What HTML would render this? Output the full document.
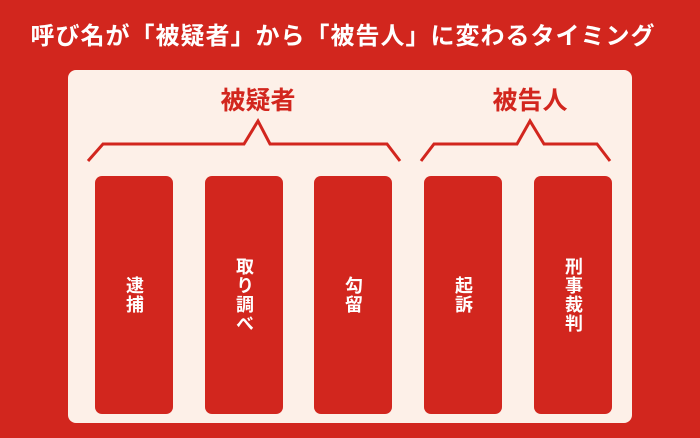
<!DOCTYPE html>
<html><head><meta charset="utf-8"><style>
body{margin:0;width:700px;height:438px;background:#d2261e;position:relative;overflow:hidden;font-family:"Liberation Sans","Noto Sans CJK JP",sans-serif;}
.title{position:absolute;left:0;width:686px;top:21px;text-align:center;color:#fff;font-weight:bold;font-size:24px;letter-spacing:1px;line-height:32px;}
.panel{position:absolute;left:68px;top:70px;width:564px;height:353px;background:#fdf0e8;border-radius:8px;}
.lab{position:absolute;color:#d2261e;font-weight:bold;font-size:25px;line-height:30px;top:86px;text-align:center;width:120px;}
.box{position:absolute;top:176px;height:238px;width:78px;background:#d2261e;border-radius:7px;display:flex;align-items:center;justify-content:center;}
.box span{writing-mode:vertical-rl;color:#fff;font-weight:bold;font-size:18px;letter-spacing:1px;}
</style></head><body>
<div class="title">呼び名が「被疑者」から「被告人」に変わるタイミング</div>
<div class="panel"></div>
<div class="lab" style="left:198px">被疑者</div>
<div class="lab" style="left:470px">被告人</div>
<svg style="position:absolute;left:0;top:0" width="700" height="438">
<polyline points="88,161 103,144 244,144 258,121 270,144 387,144 400,161" fill="none" stroke="#d2261e" stroke-width="3"/>
<polyline points="421,161 434,144 517,144 530,121 544,144 597,144 610,161" fill="none" stroke="#d2261e" stroke-width="3"/>
</svg>
<div class="box" style="left:95px"><span>逮捕</span></div>
<div class="box" style="left:205px"><span>取り調べ</span></div>
<div class="box" style="left:314px"><span>勾留</span></div>
<div class="box" style="left:424px"><span>起訴</span></div>
<div class="box" style="left:534px"><span>刑事裁判</span></div>
</body></html>
